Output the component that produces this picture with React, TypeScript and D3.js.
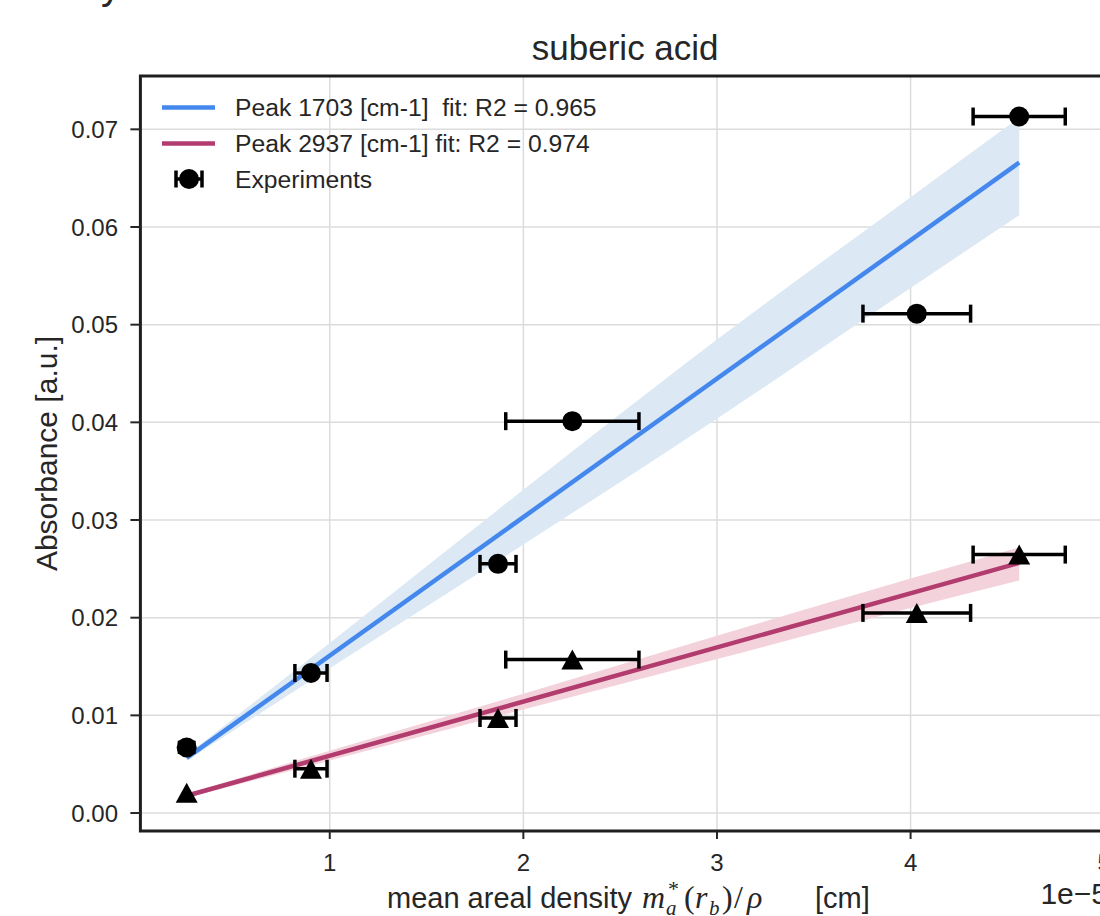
import React from 'react';
import * as d3 from 'd3';

// ---- data ----
const xPos = [0.261, 0.903, 1.869, 2.253, 4.032, 4.561];
const xErr = [0, 0.083, 0.093, 0.344, 0.278, 0.238];
const peak1703 = [0.00672, 0.01434, 0.02551, 0.04012, 0.05113, 0.07131];
const yErr1703 = [0.0005, 0, 0, 0, 0, 0];
const peak2937 = [0.00208, 0.00454, 0.00973, 0.01571, 0.02049, 0.02646];
const yErr2937 = [0, 0, 0, 0, 0, 0];

const fitX = [0.261, 4.561];
const fit1703 = [0.00564, 0.0666];
const fit2937 = [0.00177, 0.02561];

const bandX = [0.261, 1, 2, 3, 4, 4.561];
const band1703Lo = [0.00534, 0.01482, 0.02749, 0.04037, 0.05375, 0.0612];
const band1703Hi = [0.00594, 0.01742, 0.03309, 0.04847, 0.06305, 0.0712];
const band2937Lo = [0.00157, 0.00537, 0.01061, 0.01576, 0.0210, 0.0238];
const band2937Hi = [0.00197, 0.00637, 0.01221, 0.01816, 0.0240, 0.0272];

const xTicks = [1, 2, 3, 4, 5];
const yTicks = [0, 0.01, 0.02, 0.03, 0.04, 0.05, 0.06, 0.07];

const legendLabels = [
  'Peak 1703 [cm-1]  fit: R2 = 0.965',
  'Peak 2937 [cm-1] fit: R2 = 0.974',
  'Experiments',
];

const BLUE = '#4488ee';
const PINK = '#b23c6e';
const BLUE_BAND = '#dce9f4';
const PINK_BAND = '#f3d2db';
const INK = '#262626';
const FONT = '"Liberation Sans", Arial, Helvetica, sans-serif';
const SERIF = '"Liberation Serif", "Times New Roman", serif';

export default function App() {
  const W = 1100;
  const H = 916;
  const left = 140.4;
  const right = 1110;
  const top = 76;
  const bottom = 831;

  const x = d3.scaleLinear().domain([0.022, 5.03]).range([left, right]);
  const y = d3.scaleLinear().domain([-0.00184, 0.07546]).range([bottom, top]);

  const line = d3
    .line<[number, number]>()
    .x((d) => x(d[0]))
    .y((d) => y(d[1]));

  const bandPath = (lo: number[], hi: number[]) =>
    d3
      .area<number>()
      .curve(d3.curveMonotoneX)
      .x((d) => x(d))
      .y0((_, i) => y(lo[i]))
      .y1((_, i) => y(hi[i]))(bandX) as string;

  const capH = 9;
  const tri = (cx: number, cy: number) => {
    const w = 22;
    const h = 20;
    return `M${cx},${cy - h / 2}L${cx + w / 2},${cy + h / 2}L${cx - w / 2},${cy + h / 2}Z`;
  };

  const errBars = (vals: number[], yErr: number[], key: string) =>
    xPos.map((xv, i) => {
      const cx = x(xv);
      const yy = y(vals[i]);
      const parts: React.ReactNode[] = [];
      if (xErr[i] > 0) {
        const x0 = x(xv - xErr[i]);
        const x1 = x(xv + xErr[i]);
        parts.push(<line key="h" x1={x0} x2={x1} y1={yy} y2={yy} />);
        parts.push(<line key="c0" x1={x0} x2={x0} y1={yy - capH} y2={yy + capH} />);
        parts.push(<line key="c1" x1={x1} x2={x1} y1={yy - capH} y2={yy + capH} />);
      }
      if (yErr[i] > 0) {
        const y0 = y(vals[i] - yErr[i]);
        const y1 = y(vals[i] + yErr[i]);
        parts.push(<line key="v" x1={cx} x2={cx} y1={y0} y2={y1} />);
        parts.push(<line key="d0" x1={cx - capH} x2={cx + capH} y1={y0} y2={y0} />);
        parts.push(<line key="d1" x1={cx - capH} x2={cx + capH} y1={y1} y2={y1} />);
      }
      return (
        <g key={key + i} stroke="#000" strokeWidth={3.5}>
          {parts}
        </g>
      );
    });

  const mathY = 908;

  return (
    <svg
      width={W}
      height={H}
      style={{ position: 'absolute', left: 0, top: 0, background: '#fff' }}
      fontFamily={FONT}
    >
      <rect x={0} y={0} width={W} height={H} fill="#fff" />
      {/* fragment of text above the figure */}
      <text x={101} y={-1} fontSize={40} fill={INK}>y</text>

      {/* title */}
      <text x={(left + right) / 2} y={60} fontSize={35} fill={INK} textAnchor="middle">
        suberic acid
      </text>

      {/* grid */}
      <g stroke="#dcdcdc" strokeWidth={1.5}>
        {xTicks.map((t) => (
          <line key={'gx' + t} x1={x(t)} x2={x(t)} y1={top} y2={bottom} />
        ))}
        {yTicks.map((t) => (
          <line key={'gy' + t} x1={left} x2={right} y1={y(t)} y2={y(t)} />
        ))}
      </g>

      {/* confidence bands */}
      <path d={bandPath(band1703Lo, band1703Hi)} fill={BLUE_BAND} />
      <path d={bandPath(band2937Lo, band2937Hi)} fill={PINK_BAND} />

      {/* fit lines */}
      <path
        d={line(fitX.map((v, i) => [v, fit1703[i]]) as [number, number][]) as string}
        stroke={BLUE}
        strokeWidth={4.5}
        fill="none"
      />
      <path
        d={line(fitX.map((v, i) => [v, fit2937[i]]) as [number, number][]) as string}
        stroke={PINK}
        strokeWidth={4.5}
        fill="none"
      />

      {/* error bars */}
      {errBars(peak1703, yErr1703, 'e1')}
      {errBars(peak2937, yErr2937, 'e2')}

      {/* markers */}
      {xPos.map((xv, i) => (
        <circle key={'c' + i} cx={x(xv)} cy={y(peak1703[i])} r={10} fill="#000" />
      ))}
      {xPos.map((xv, i) => (
        <path key={'t' + i} d={tri(x(xv), y(peak2937[i]))} fill="#000" />
      ))}

      {/* legend */}
      <g>
        <line x1={162} x2={215} y1={107.5} y2={107.5} stroke={BLUE} strokeWidth={4.5} />
        <line x1={162} x2={215} y1={143.5} y2={143.5} stroke={PINK} strokeWidth={4.5} />
        <g stroke="#000" strokeWidth={3.5}>
          <line x1={176} x2={202} y1={179} y2={179} />
          <line x1={176} x2={176} y1={170.5} y2={187.5} />
          <line x1={202} x2={202} y1={170.5} y2={187.5} />
        </g>
        <circle cx={189} cy={179} r={10} fill="#000" />
        {legendLabels.map((s, i) => (
          <text key={'l' + i} x={235} y={116 + i * 36} fontSize={24.7} fill={INK} style={{ whiteSpace: 'pre' }}>
            {s}
          </text>
        ))}
      </g>

      {/* frame */}
      <rect x={left} y={top} width={right - left} height={bottom - top} fill="none" stroke="#1e1e1e" strokeWidth={3} />

      {/* x axis ticks */}
      {xTicks.map((t) => (
        <g key={'xt' + t}>
          <line x1={x(t)} x2={x(t)} y1={bottom} y2={bottom + 8} stroke={INK} strokeWidth={2} />
          <text x={x(t)} y={871} fontSize={24} fill={INK} textAnchor="middle">
            {t}
          </text>
        </g>
      ))}
      <text x={1108} y={904} fontSize={30} fill={INK} textAnchor="end">1e−5</text>

      {/* y axis ticks */}
      {yTicks.map((t) => (
        <g key={'yt' + t}>
          <line x1={left - 10} x2={left} y1={y(t)} y2={y(t)} stroke={INK} strokeWidth={2} />
          <text x={118} y={y(t) + 8.6} fontSize={24} fill={INK} textAnchor="end">
            {t.toFixed(2)}
          </text>
        </g>
      ))}

      {/* axis labels */}
      <text
        transform={`translate(57, ${(top + bottom) / 2}) rotate(-90)`}
        fontSize={30}
        fill={INK}
        textAnchor="middle"
      >
        Absorbance [a.u.]
      </text>
      <g fill={INK}>
        <text x={387} y={mathY} fontSize={29}>mean areal density</text>
        <text x={642} y={mathY} fontSize={32} fontFamily={SERIF} fontStyle="italic">m</text>
        <text x={666} y={mathY + 7} fontSize={21} fontFamily={SERIF} fontStyle="italic">a</text>
        <text x={668} y={mathY - 12} fontSize={22} fontFamily={SERIF}>*</text>
        <text x={684} y={mathY} fontSize={32} fontFamily={SERIF}>(</text>
        <text x={695} y={mathY} fontSize={32} fontFamily={SERIF} fontStyle="italic">r</text>
        <text x={709} y={mathY + 7} fontSize={21} fontFamily={SERIF} fontStyle="italic">b</text>
        <text x={722} y={mathY} fontSize={32} fontFamily={SERIF}>)</text>
        <text x={734} y={mathY} fontSize={32} fontFamily={SERIF}>/</text>
        <text x={747} y={mathY} fontSize={32} fontFamily={SERIF} fontStyle="italic">ρ</text>
        <text x={815} y={mathY} fontSize={29}>[cm]</text>
      </g>
    </svg>
  );
}
